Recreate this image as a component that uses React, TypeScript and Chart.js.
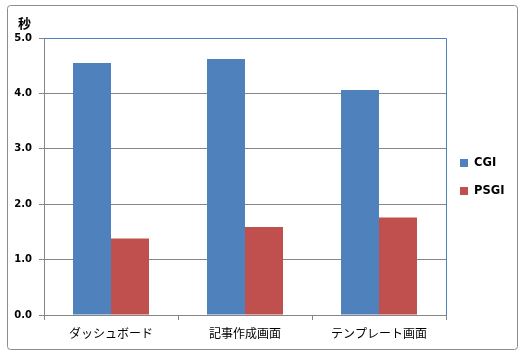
import React, { useEffect, useRef } from "react";
import { Chart, registerables } from "chart.js";

Chart.register(...registerables);

const categories = ["ダッシュボード", "記事作成画面", "テンプレート画面"];
const seriesNames = ["CGI", "PSGI"];
const cgiValues = [4.55, 4.62, 4.06];
const psgiValues = [1.38, 1.59, 1.76];
const yMin = 0;
const yMax = 5;
const yStep = 1;
const yUnit = "秒";

const BLUE = "#4F81BD";
const RED = "#C0504D";
const GRID = "#868686";

const framePlugin = {
  id: "frame",
  beforeDatasetsDraw(chart: any) {
    const { ctx, chartArea } = chart;
    ctx.save();
    ctx.strokeStyle = BLUE;
    ctx.lineWidth = 1;
    ctx.beginPath();
    ctx.moveTo(Math.round(chartArea.left) + 0.5, Math.round(chartArea.top) + 0.5);
    ctx.lineTo(Math.round(chartArea.right) + 0.5, Math.round(chartArea.top) + 0.5);
    ctx.lineTo(Math.round(chartArea.right) + 0.5, Math.round(chartArea.bottom) + 0.5);
    ctx.stroke();
    ctx.restore();
  },
  afterDraw(chart: any) {
    const { ctx } = chart;
    ctx.save();
    // outer border
    ctx.strokeStyle = "#8C8C8C";
    ctx.lineWidth = 1;
    const x = 7.5, y = 5.5, w = 510, h = 344, r = 3;
    ctx.beginPath();
    ctx.moveTo(x + r, y);
    ctx.lineTo(x + w - r, y);
    ctx.quadraticCurveTo(x + w, y, x + w, y + r);
    ctx.lineTo(x + w, y + h - r);
    ctx.quadraticCurveTo(x + w, y + h, x + w - r, y + h);
    ctx.lineTo(x + r, y + h);
    ctx.quadraticCurveTo(x, y + h, x, y + h - r);
    ctx.lineTo(x, y + r);
    ctx.quadraticCurveTo(x, y, x + r, y);
    ctx.stroke();

    // unit label
    ctx.fillStyle = "#000";
    ctx.font = "bold 13px 'Noto Sans CJK JP'";
    ctx.textAlign = "left";
    ctx.textBaseline = "middle";
    ctx.fillText(yUnit, 18, 23);

    // legend
    ctx.font = "bold 11.5px 'DejaVu Sans'";
    chart.data.datasets.forEach((ds: any, i: number) => {
      const cy = 163 + i * 28;
      ctx.fillStyle = ds.backgroundColor;
      ctx.fillRect(460, cy - 4, 8, 8);
      ctx.fillStyle = "#000";
      ctx.fillText(ds.label, 474, cy + 0.5);
    });
    ctx.restore();
  },
};

export default function App() {
  const ref = useRef<HTMLCanvasElement | null>(null);
  useEffect(() => {
    if (!ref.current) return;
    const chart = new Chart(ref.current, {
      type: "bar",
      data: {
        labels: categories,
        datasets: [
          {
            label: seriesNames[0],
            data: cgiValues,
            backgroundColor: BLUE,
            categoryPercentage: 76 / 134,
            barPercentage: 1,
          },
          {
            label: seriesNames[1],
            data: psgiValues,
            backgroundColor: RED,
            categoryPercentage: 76 / 134,
            barPercentage: 1,
          },
        ],
      },
      options: {
        animation: false,
        responsive: false,
        events: [],
        layout: { padding: { left: 0, top: 38, right: 80, bottom: 0 } },
        plugins: {
          legend: { display: false },
          tooltip: { enabled: false },
        },
        scales: {
          x: {
            offset: true,
            afterFit: (s: any) => {
              s.height = 41;
            },
            grid: {
              offset: true,
              drawOnChartArea: false,
              drawTicks: true,
              tickLength: 5,
              color: GRID,
            },
            border: { display: true, color: GRID },
            ticks: {
              color: "#000",
              padding: 6,
              maxRotation: 0,
              font: { family: "'Noto Sans CJK JP'", size: 12 },
            },
          },
          y: {
            min: yMin,
            max: yMax,
            afterFit: (s: any) => {
              s.width = 44;
            },
            grid: {
              color: GRID,
              drawTicks: true,
              tickLength: 5,
            },
            border: { display: true, color: GRID },
            ticks: {
              stepSize: yStep,
              color: "#000",
              padding: 7,
              callback: (v: any) => Number(v).toFixed(1),
              font: { family: "'DejaVu Sans'", size: 10, weight: "bold" },
            },
          },
        },
      },
      plugins: [framePlugin],
    });
    return () => chart.destroy();
  }, []);
  return (
    <div style={{ position: "fixed", left: 0, top: 0, width: 526, height: 356, background: "#fff" }}>
      <canvas ref={ref} width={526} height={356} style={{ display: "block" }} />
    </div>
  );
}
